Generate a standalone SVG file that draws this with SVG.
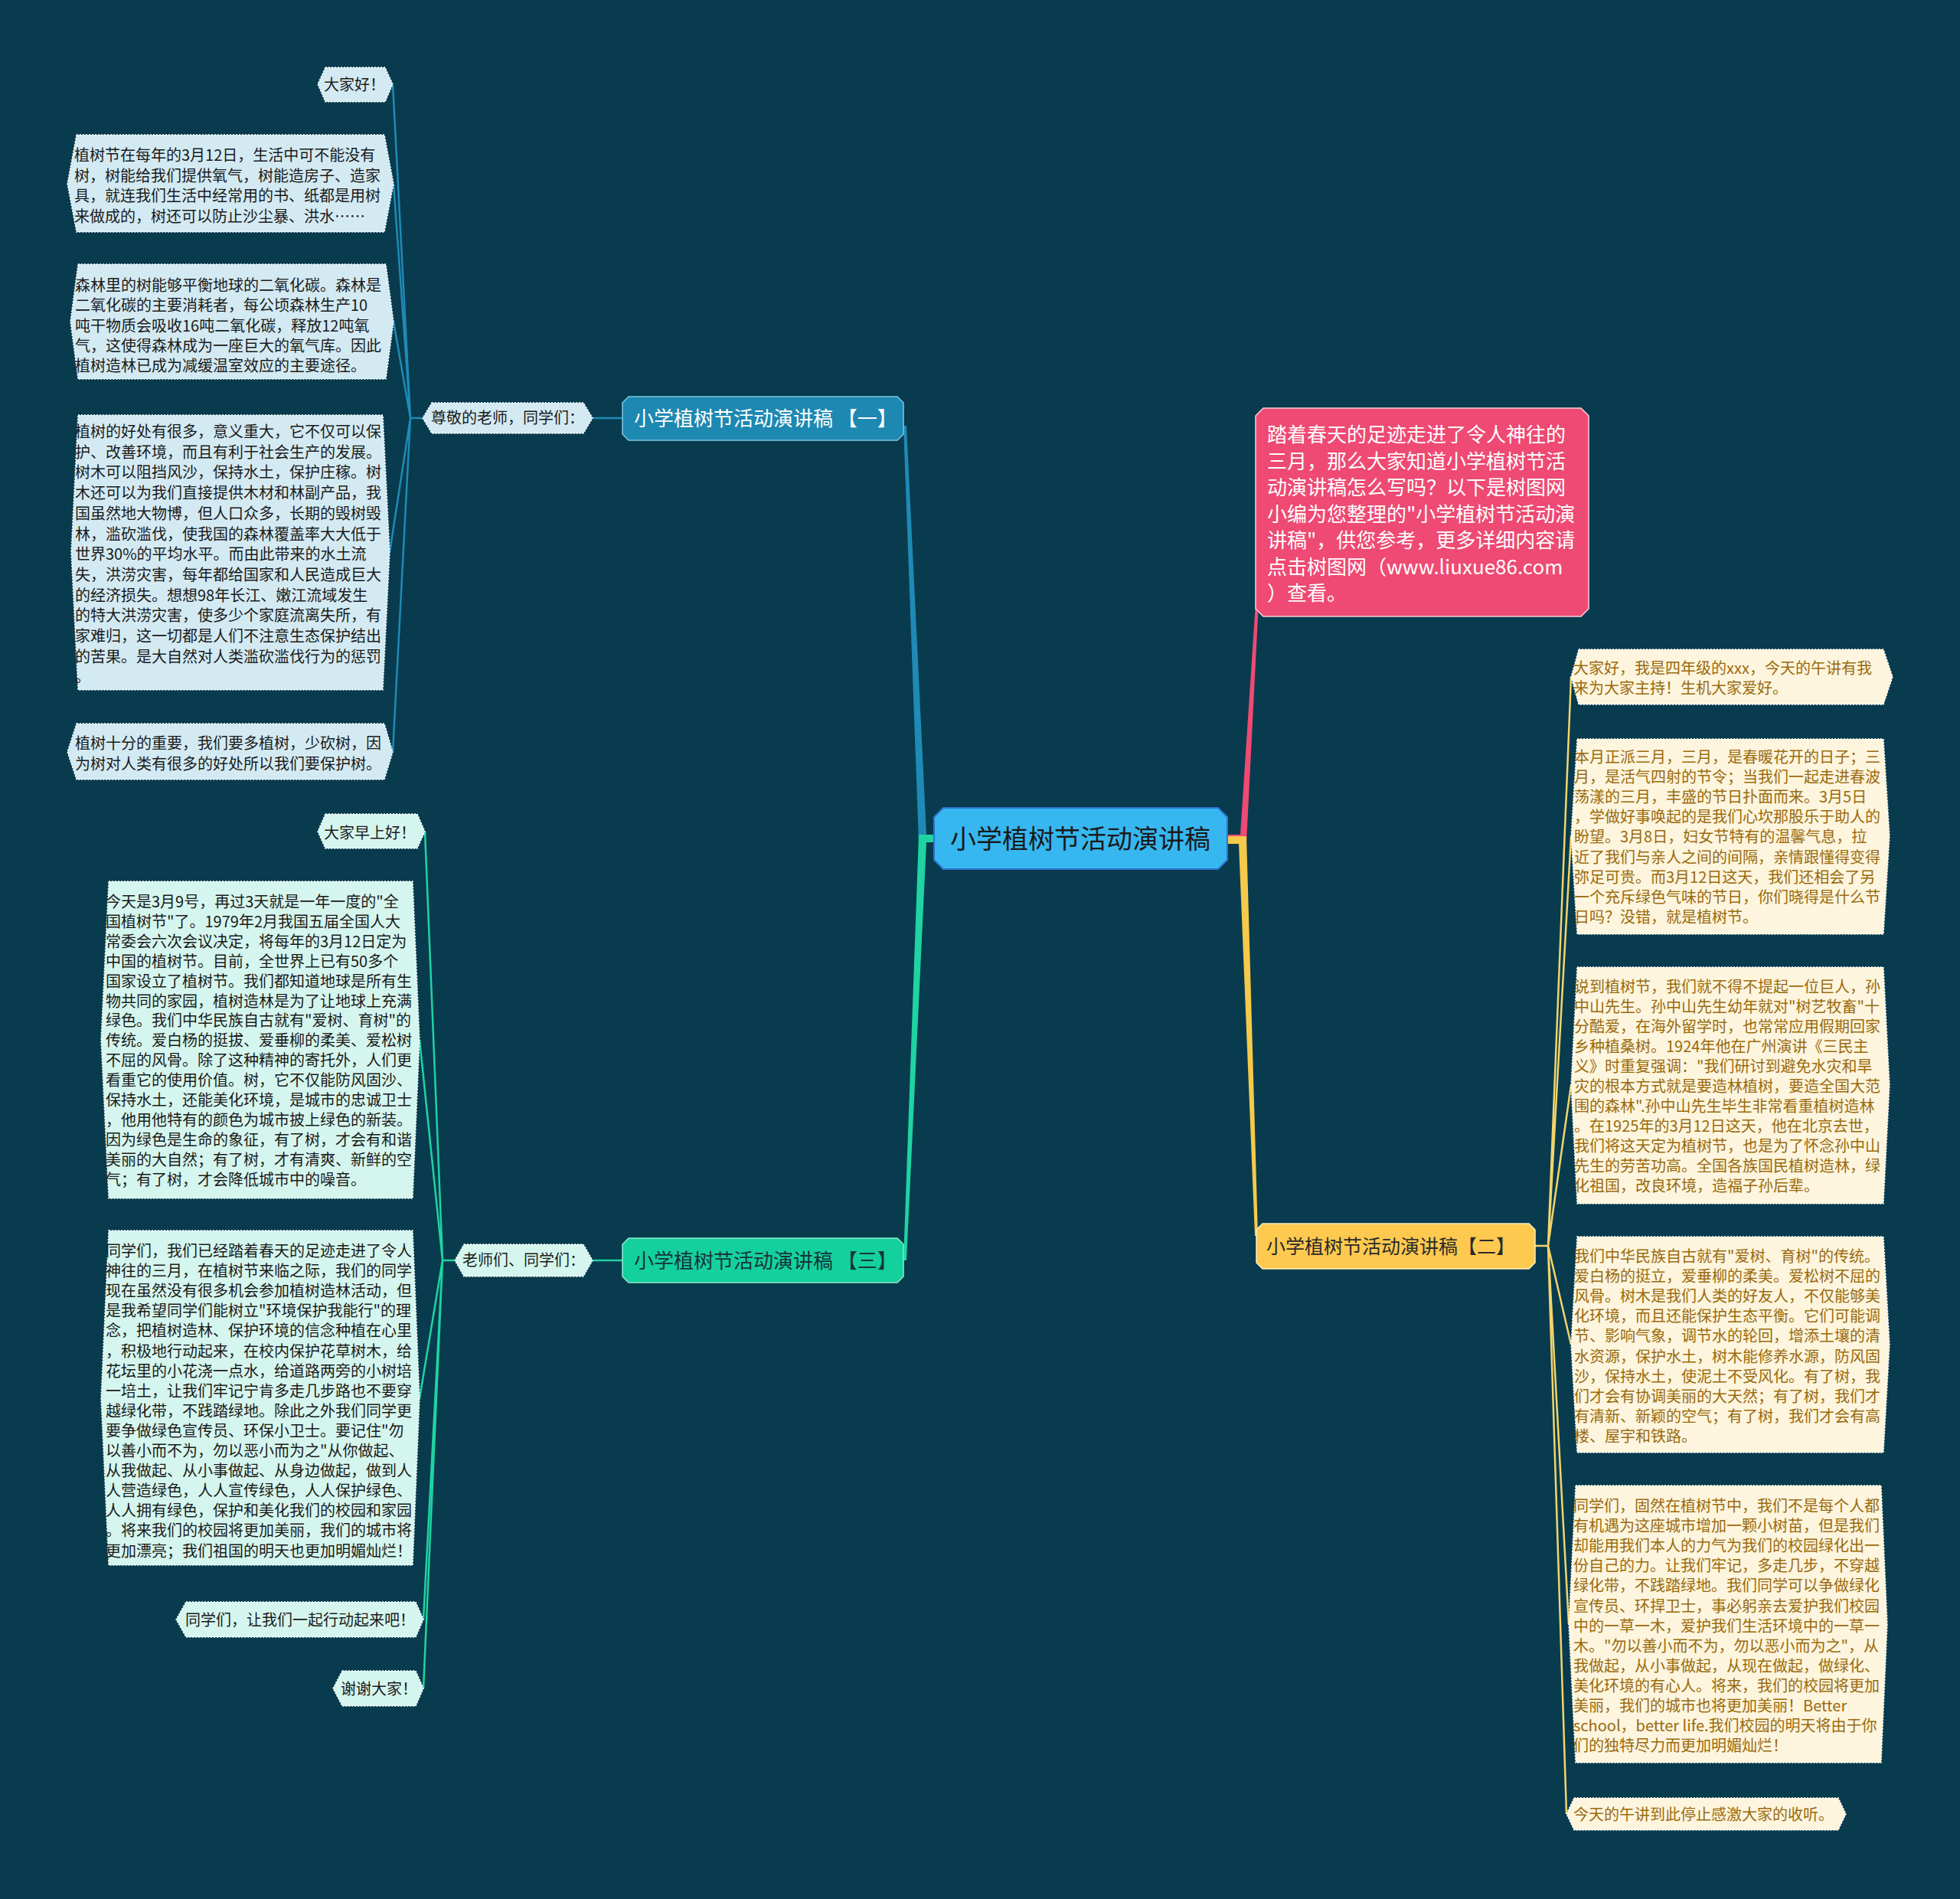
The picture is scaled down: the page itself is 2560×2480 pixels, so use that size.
<svg xmlns="http://www.w3.org/2000/svg" width="2560" height="2480" viewBox="0 0 2560 2480">
<style>
text{font-family:"Noto Sans CJK SC","Noto Sans",sans-serif;}
.t20{font-size:20px;}
.t19{font-size:20px;}
.dk{fill:#1a1a1a;}
.br{fill:#9a6a0c;}
.c1{fill:#d3eaf3;stroke:#ffffff;stroke-width:1.5;stroke-dasharray:2 2;}
.c3{fill:#d5f6ee;stroke:#ffffff;stroke-width:1.5;stroke-dasharray:2 2;}
.c2{fill:#fdf5de;stroke:#ffffff;stroke-width:1.5;stroke-dasharray:2 2;}
.l1{stroke:#1f8ab5;stroke-width:2.5;fill:none;}
.l3{stroke:#1fd3a3;stroke-width:2.5;fill:none;}
.l2{stroke:#f3d46c;stroke-width:2.5;fill:none;}
</style>
<rect x="0" y="0" width="2560" height="2480" fill="#083b4e"/>
<g id="connectors">
<path d="M1180,556 L1184,556 L1210,1090 L1222,1090 L1222,1100 L1200,1100 Z" fill="#1f8ab5"/>
<path d="M1200,1090 L1222,1090 L1222,1100 L1210,1100 L1184,1646 L1180,1646 Z" fill="#1fd3a3"/>
<path d="M1601,1090 L1620,1090 L1640,786 L1644,786 L1628,1100 L1601,1100 Z" fill="#ee4a73"/>
<path d="M1601,1092 L1628,1092 L1643,1614 L1639,1614 L1618,1102 L1601,1102 Z" fill="#f5c94a"/>
<path class="l1" d="M774,546 L813,546 M552,546 L536,546 M536,546 L513,110 M536,546 L514,240 M536,546 L514,420 M536,546 L509,721 M536,546 L513,982"/>
<path class="l3" d="M774,1646 L813,1646 M594,1646 L578,1646 M578,1646 L555,1086 M578,1646 L548,1358 M578,1646 L548,1826 M578,1646 L553,2115 M578,1646 L553,2205"/>
<path class="l2" d="M2005,1627 L2022,1627 M2022,1627 L2052,884 M2022,1627 L2052,1092 M2022,1627 L2052,1417 M2022,1627 L2052,1756 M2022,1627 L2049,2121 M2022,1627 L2046,2369"/>
</g>
<g id="center">
<path d="M1232,1055 L1591,1055 L1603,1067 L1603,1123 L1591,1135 L1232,1135 L1220,1123 L1220,1067 Z" fill="#36b7f0" stroke="#2d72d2" stroke-width="2"/>
<text x="1411" y="1108" font-size="34" text-anchor="middle" fill="#1a1a1a">小学植树节活动演讲稿</text>
</g>
<g id="intro">
<path d="M1650,533 L2065,533 L2075,543 L2075,795 L2065,805 L1650,805 L1640,795 L1640,543 Z" fill="#ee4a73" stroke="#ffd0dc" stroke-width="1.5"/>
<text x="1655" y="577" font-size="26" fill="#ffffff"><tspan x="1655">踏着春天的足迹走进了令人神往的</tspan><tspan x="1655" dy="34.5">三月，那么大家知道小学植树节活</tspan><tspan x="1655" dy="34.5">动演讲稿怎么写吗？以下是树图网</tspan><tspan x="1655" dy="34.5">小编为您整理的"小学植树节活动演</tspan><tspan x="1655" dy="34.5">讲稿"，供您参考，更多详细内容请</tspan><tspan x="1655" dy="34.5">点击树图网（www.liuxue86.com</tspan><tspan x="1655" dy="34.5">）查看。</tspan></text>
</g>
<g id="branch1">
<path d="M821,518 L1172,518 L1180,526 L1180,567 L1172,575 L821,575 L813,567 L813,526 Z" fill="#1d88b1" stroke="#7cc7e2" stroke-width="1.5"/>
<text x="828" y="556" font-size="26" fill="#ffffff">小学植树节活动演讲稿 【一】</text>
</g>
<g id="label1">
<path d="M564,526 L762,526 L774,546 L762,566 L564,566 L552,546 Z" class="c1"/>
<text x="563" y="553" class="t19 dk">尊敬的老师，同学们：</text>
</g>
<g id="b1n1">
<path d="M425,88 L503,88 L513,110 L503,133 L425,133 L415,110 Z" class="c1"/>
<text x="423" y="118" class="t20 dk">大家好！</text>
</g>
<g id="b1n2">
<path d="M100,176 L502,176 L514,240 L502,303 L100,303 L88,240 Z" class="c1"/>
<text x="97" y="210" class="t20 dk"><tspan x="97">植树节在每年的3月12日，生活中可不能没有</tspan><tspan x="97" dy="26.7">树，树能给我们提供氧气，树能造房子、造家</tspan><tspan x="97" dy="26.7">具，就连我们生活中经常用的书、纸都是用树</tspan><tspan x="97" dy="26.7">来做成的，树还可以防止沙尘暴、洪水……</tspan></text>
</g>
<g id="b1n3">
<path d="M102,345 L504,345 L514,420 L504,495 L102,495 L92,420 Z" class="c1"/>
<text x="98" y="380" class="t20 dk"><tspan x="98">森林里的树能够平衡地球的二氧化碳。森林是</tspan><tspan x="98" dy="26.3">二氧化碳的主要消耗者，每公顷森林生产10</tspan><tspan x="98" dy="26.3">吨干物质会吸收16吨二氧化碳，释放12吨氧</tspan><tspan x="98" dy="26.3">气，这使得森林成为一座巨大的氧气库。因此</tspan><tspan x="98" dy="26.3">植树造林已成为减缓温室效应的主要途径。</tspan></text>
</g>
<g id="b1n4">
<path d="M102,542 L500,542 L509,721 L500,901 L102,901 L93,721 Z" class="c1"/>
<text x="98" y="571" class="t20 dk"><tspan x="98">植树的好处有很多，意义重大，它不仅可以保</tspan><tspan x="98" dy="26.7">护、改善环境，而且有利于社会生产的发展。</tspan><tspan x="98" dy="26.7">树木可以阻挡风沙，保持水土，保护庄稼。树</tspan><tspan x="98" dy="26.7">木还可以为我们直接提供木材和林副产品，我</tspan><tspan x="98" dy="26.7">国虽然地大物博，但人口众多，长期的毁树毁</tspan><tspan x="98" dy="26.7">林，滥砍滥伐，使我国的森林覆盖率大大低于</tspan><tspan x="98" dy="26.7">世界30%的平均水平。而由此带来的水土流</tspan><tspan x="98" dy="26.7">失，洪涝灾害，每年都给国家和人民造成巨大</tspan><tspan x="98" dy="26.7">的经济损失。想想98年长江、嫩江流域发生</tspan><tspan x="98" dy="26.7">的特大洪涝灾害，使多少个家庭流离失所，有</tspan><tspan x="98" dy="26.7">家难归，这一切都是人们不注意生态保护结出</tspan><tspan x="98" dy="26.7">的苦果。是大自然对人类滥砍滥伐行为的惩罚</tspan><tspan x="98" dy="26.7">。</tspan></text>
</g>
<g id="b1n5">
<path d="M100,945 L502,945 L513,982 L502,1018 L100,1018 L88,982 Z" class="c1"/>
<text x="98" y="978" class="t20 dk"><tspan x="98">植树十分的重要，我们要多植树，少砍树，因</tspan><tspan x="98" dy="27">为树对人类有很多的好处所以我们要保护树。</tspan></text>
</g>
<g id="branch3">
<path d="M821,1617 L1172,1617 L1180,1625 L1180,1667 L1172,1675 L821,1675 L813,1667 L813,1625 Z" fill="#14d09d" stroke="#8fead0" stroke-width="1.5"/>
<text x="828" y="1656" font-size="26" fill="#16353a">小学植树节活动演讲稿 【三】</text>
</g>
<g id="label3">
<path d="M606,1625 L762,1625 L774,1646 L762,1667 L606,1667 L594,1646 Z" class="c3"/>
<text x="604" y="1653" class="t19 dk">老师们、同学们：</text>
</g>
<g id="b3n1">
<path d="M425,1063 L545,1063 L555,1086 L545,1108 L425,1108 L415,1086 Z" class="c3"/>
<text x="423" y="1095" class="t20 dk">大家早上好！</text>
</g>
<g id="b3n2">
<path d="M142,1151 L539,1151 L548,1358 L539,1565 L142,1565 L132,1358 Z" class="c3"/>
<text x="138" y="1185" class="t20 dk"><tspan x="138">今天是3月9号，再过3天就是一年一度的"全</tspan><tspan x="138" dy="25.9">国植树节"了。1979年2月我国五届全国人大</tspan><tspan x="138" dy="25.9">常委会六次会议决定，将每年的3月12日定为</tspan><tspan x="138" dy="25.9">中国的植树节。目前，全世界上已有50多个</tspan><tspan x="138" dy="25.9">国家设立了植树节。我们都知道地球是所有生</tspan><tspan x="138" dy="25.9">物共同的家园，植树造林是为了让地球上充满</tspan><tspan x="138" dy="25.9">绿色。我们中华民族自古就有"爱树、育树"的</tspan><tspan x="138" dy="25.9">传统。爱白杨的挺拔、爱垂柳的柔美、爱松树</tspan><tspan x="138" dy="25.9">不屈的风骨。除了这种精神的寄托外，人们更</tspan><tspan x="138" dy="25.9">看重它的使用价值。树，它不仅能防风固沙、</tspan><tspan x="138" dy="25.9">保持水土，还能美化环境，是城市的忠诚卫士</tspan><tspan x="138" dy="25.9">，他用他特有的颜色为城市披上绿色的新装。</tspan><tspan x="138" dy="25.9">因为绿色是生命的象征，有了树，才会有和谐</tspan><tspan x="138" dy="25.9">美丽的大自然；有了树，才有清爽、新鲜的空</tspan><tspan x="138" dy="25.9">气；有了树，才会降低城市中的噪音。</tspan></text>
</g>
<g id="b3n3">
<path d="M142,1607 L539,1607 L548,1826 L539,2044 L142,2044 L132,1826 Z" class="c3"/>
<text x="138" y="1641" class="t20 dk"><tspan x="138">同学们，我们已经踏着春天的足迹走进了令人</tspan><tspan x="138" dy="26.1">神往的三月，在植树节来临之际，我们的同学</tspan><tspan x="138" dy="26.1">现在虽然没有很多机会参加植树造林活动，但</tspan><tspan x="138" dy="26.1">是我希望同学们能树立"环境保护我能行"的理</tspan><tspan x="138" dy="26.1">念，把植树造林、保护环境的信念种植在心里</tspan><tspan x="138" dy="26.1">，积极地行动起来，在校内保护花草树木，给</tspan><tspan x="138" dy="26.1">花坛里的小花浇一点水，给道路两旁的小树培</tspan><tspan x="138" dy="26.1">一培土，让我们牢记宁肯多走几步路也不要穿</tspan><tspan x="138" dy="26.1">越绿化带，不践踏绿地。除此之外我们同学更</tspan><tspan x="138" dy="26.1">要争做绿色宣传员、环保小卫士。要记住"勿</tspan><tspan x="138" dy="26.1">以善小而不为，勿以恶小而为之"从你做起、</tspan><tspan x="138" dy="26.1">从我做起、从小事做起、从身边做起，做到人</tspan><tspan x="138" dy="26.1">人营造绿色，人人宣传绿色，人人保护绿色、</tspan><tspan x="138" dy="26.1">人人拥有绿色，保护和美化我们的校园和家园</tspan><tspan x="138" dy="26.1">。将来我们的校园将更加美丽，我们的城市将</tspan><tspan x="138" dy="26.1">更加漂亮；我们祖国的明天也更加明媚灿烂！</tspan></text>
</g>
<g id="b3n4">
<path d="M243,2092 L543,2092 L553,2115 L543,2138 L243,2138 L230,2115 Z" class="c3"/>
<text x="242" y="2123" class="t20 dk">同学们，让我们一起行动起来吧！</text>
</g>
<g id="b3n5">
<path d="M447,2182 L543,2182 L553,2205 L543,2228 L447,2228 L435,2205 Z" class="c3"/>
<text x="445" y="2213" class="t20 dk">谢谢大家！</text>
</g>
<g id="branch2">
<path d="M1649,1598 L1997,1598 L2005,1606 L2005,1649 L1997,1657 L1649,1657 L1641,1649 L1641,1606 Z" fill="#fdc94f" stroke="#fff0c0" stroke-width="1.5"/>
<text x="1654" y="1637" font-size="25" fill="#2a2a2a">小学植树节活动演讲稿【二】</text>
</g>
<g id="b2n1">
<path d="M2062,848 L2460,848 L2472,884 L2460,920 L2062,920 L2052,884 Z" class="c2"/>
<text x="2055" y="880" class="t20 br"><tspan x="2055">大家好，我是四年级的xxx，今天的午讲有我</tspan><tspan x="2055" dy="26">来为大家主持！生机大家爱好。</tspan></text>
</g>
<g id="b2n2">
<path d="M2060,965 L2460,965 L2468,1092 L2460,1220 L2060,1220 L2052,1092 Z" class="c2"/>
<text x="2056" y="996" class="t20 br"><tspan x="2056">本月正派三月，三月，是春暖花开的日子；三</tspan><tspan x="2056" dy="26.1">月，是活气四射的节令；当我们一起走进春波</tspan><tspan x="2056" dy="26.1">荡漾的三月，丰盛的节日扑面而来。3月5日</tspan><tspan x="2056" dy="26.1">，学做好事唤起的是我们心坎那股乐于助人的</tspan><tspan x="2056" dy="26.1">盼望。3月8日，妇女节特有的温馨气息，拉</tspan><tspan x="2056" dy="26.1">近了我们与亲人之间的间隔，亲情跟懂得变得</tspan><tspan x="2056" dy="26.1">弥足可贵。而3月12日这天，我们还相会了另</tspan><tspan x="2056" dy="26.1">一个充斥绿色气味的节日，你们晓得是什么节</tspan><tspan x="2056" dy="26.1">日吗？没错，就是植树节。</tspan></text>
</g>
<g id="b2n3">
<path d="M2060,1263 L2460,1263 L2468,1417 L2460,1572 L2060,1572 L2052,1417 Z" class="c2"/>
<text x="2056" y="1296" class="t20 br"><tspan x="2056">说到植树节，我们就不得不提起一位巨人，孙</tspan><tspan x="2056" dy="26">中山先生。孙中山先生幼年就对"树艺牧畜"十</tspan><tspan x="2056" dy="26">分酷爱，在海外留学时，也常常应用假期回家</tspan><tspan x="2056" dy="26">乡种植桑树。1924年他在广州演讲《三民主</tspan><tspan x="2056" dy="26">义》时重复强调："我们研讨到避免水灾和旱</tspan><tspan x="2056" dy="26">灾的根本方式就是要造林植树，要造全国大范</tspan><tspan x="2056" dy="26">围的森林".孙中山先生毕生非常看重植树造林</tspan><tspan x="2056" dy="26">。在1925年的3月12日这天，他在北京去世，</tspan><tspan x="2056" dy="26">我们将这天定为植树节，也是为了怀念孙中山</tspan><tspan x="2056" dy="26">先生的劳苦功高。全国各族国民植树造林，绿</tspan><tspan x="2056" dy="26">化祖国，改良环境，造福子孙后辈。</tspan></text>
</g>
<g id="b2n4">
<path d="M2060,1615 L2460,1615 L2468,1756 L2460,1897 L2060,1897 L2052,1756 Z" class="c2"/>
<text x="2056" y="1648" class="t20 br"><tspan x="2056">我们中华民族自古就有"爱树、育树"的传统。</tspan><tspan x="2056" dy="26.1">爱白杨的挺立，爱垂柳的柔美。爱松树不屈的</tspan><tspan x="2056" dy="26.1">风骨。树木是我们人类的好友人，不仅能够美</tspan><tspan x="2056" dy="26.1">化环境，而且还能保护生态平衡。它们可能调</tspan><tspan x="2056" dy="26.1">节、影响气象，调节水的轮回，增添土壤的清</tspan><tspan x="2056" dy="26.1">水资源，保护水土，树木能修养水源，防风固</tspan><tspan x="2056" dy="26.1">沙，保持水土，使泥土不受风化。有了树，我</tspan><tspan x="2056" dy="26.1">们才会有协调美丽的大天然；有了树，我们才</tspan><tspan x="2056" dy="26.1">有清新、新颖的空气；有了树，我们才会有高</tspan><tspan x="2056" dy="26.1">楼、屋宇和铁路。</tspan></text>
</g>
<g id="b2n5">
<path d="M2058,1940 L2457,1940 L2465,2121 L2457,2302 L2058,2302 L2049,2121 Z" class="c2"/>
<text x="2055" y="1974" class="t20 br"><tspan x="2055">同学们，固然在植树节中，我们不是每个人都</tspan><tspan x="2055" dy="26.1">有机遇为这座城市增加一颗小树苗，但是我们</tspan><tspan x="2055" dy="26.1">却能用我们本人的力气为我们的校园绿化出一</tspan><tspan x="2055" dy="26.1">份自己的力。让我们牢记，多走几步，不穿越</tspan><tspan x="2055" dy="26.1">绿化带，不践踏绿地。我们同学可以争做绿化</tspan><tspan x="2055" dy="26.1">宣传员、环捍卫士，事必躬亲去爱护我们校园</tspan><tspan x="2055" dy="26.1">中的一草一木，爱护我们生活环境中的一草一</tspan><tspan x="2055" dy="26.1">木。"勿以善小而不为，勿以恶小而为之"，从</tspan><tspan x="2055" dy="26.1">我做起，从小事做起，从现在做起，做绿化、</tspan><tspan x="2055" dy="26.1">美化环境的有心人。将来，我们的校园将更加</tspan><tspan x="2055" dy="26.1">美丽，我们的城市也将更加美丽！Better</tspan><tspan x="2055" dy="26.1">school，better life.我们校园的明天将由于你</tspan><tspan x="2055" dy="26.1">们的独特尽力而更加明媚灿烂！</tspan></text>
</g>
<g id="b2n6">
<path d="M2056,2348 L2401,2348 L2411,2369 L2401,2390 L2056,2390 L2046,2369 Z" class="c2"/>
<text x="2055" y="2377" class="t20 br">今天的午讲到此停止感激大家的收听。</text>
</g>
</svg>
